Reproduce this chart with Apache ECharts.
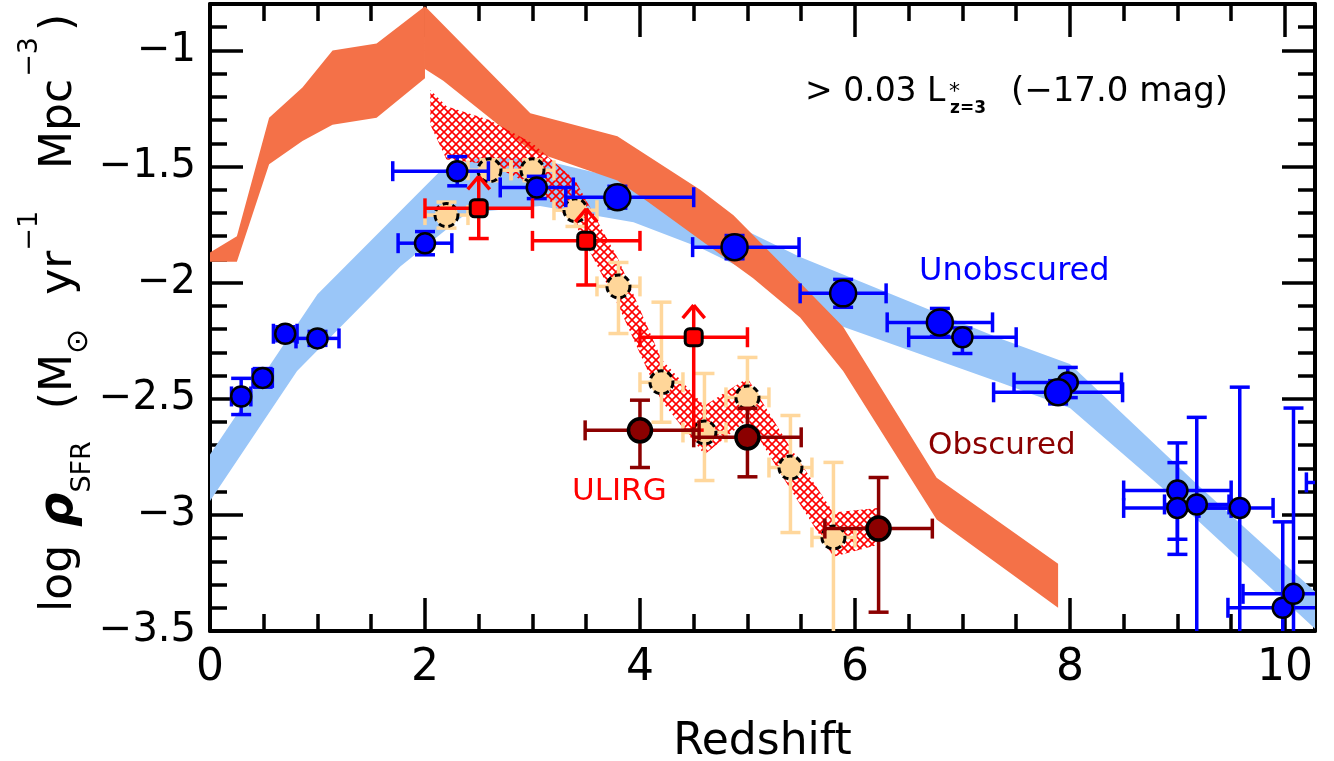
<!DOCTYPE html>
<html>
<head>
<meta charset="utf-8">
<script src="https://cdn.jsdelivr.net/npm/echarts@6/dist/echarts.min.js"></script>
<style>
  html, body { margin: 0; padding: 0; background: #fff; }
  #chart { width: 1334px; height: 761px; }
</style>
</head>
<body>
<div id="chart"></div>
<script>
// ---------------- data ----------------
// axis ranges and ticks
const X_MIN = 0, X_MAX = 10.28, X_MAJOR = 2, X_MINOR = 0.5;
const Y_MIN = -3.5, Y_MAX = -0.8, Y_MAJOR = 0.5, Y_MINOR = 0.1;

// obscured (IR) SFR density model band: piece up to z = 2 and piece beyond
const obscLeftZ  = [0, 0.25, 0.55, 0.86, 1.14, 1.55, 2.0];
const obscLeftHi = [-1.87, -1.80, -1.29, -1.16, -1.00, -0.97, -0.81];
const obscLeftLo = [-1.91, -1.91, -1.49, -1.39, -1.32, -1.29, -1.12];
const obscRightHiZ = [2.0, 2.98, 3.79, 4.56, 4.87, 5.49, 5.89, 6.76, 7.89];
const obscRightHi  = [-0.81, -1.27, -1.37, -1.60, -1.71, -2.00, -2.19, -2.84, -3.21];
const obscRightLoZ = [2.0, 2.17, 2.98, 3.79, 4.07, 5.05, 5.49, 5.89, 6.76, 7.89];
const obscRightLo  = [-1.08, -1.13, -1.43, -1.56, -1.65, -1.98, -2.15, -2.38, -3.02, -3.40];

// unobscured (UV) SFR density model band
const unobsHiZ = [0, 1.0, 2.14, 2.51, 3.07, 3.81, 4.56, 5.49, 7.35, 8.0, 9.21, 10.28];
const unobsHi  = [-2.74, -2.05, -1.52, -1.46, -1.47, -1.55, -1.68, -1.89, -2.24, -2.35, -2.88, -3.33];
const unobsLoZ = [0, 0.81, 1.77, 2.39, 3.07, 3.94, 4.56, 5.05, 5.89, 7.35, 8.0, 8.9, 10.28];
const unobsLo  = [-2.94, -2.38, -1.93, -1.70, -1.67, -1.74, -1.85, -1.96, -2.19, -2.43, -2.54, -2.90, -3.49];

// obscured SFR density range from dusty-galaxy counts (hatched)
const hatchZ  = [2.05, 2.2, 2.6, 3.0, 3.4, 3.8, 4.2, 4.6, 5.0, 5.4, 5.8, 6.21];
const hatchHi = [-1.17, -1.24, -1.30, -1.40, -1.56, -1.90, -2.33, -2.53, -2.41, -2.71, -2.99, -2.97];
const hatchLo = [-1.32, -1.47, -1.49, -1.58, -1.75, -2.10, -2.51, -2.74, -2.59, -2.89, -3.18, -3.13];

// dust-corrected estimates
const lbgZ = [2.2, 2.6, 3.0, 3.4, 3.8, 4.2, 4.6, 5.0, 5.4, 5.8];
const lbgLog = [-1.709, -1.516, -1.516, -1.688, -2.016, -2.429, -2.645, -2.494, -2.796, -3.097];
const lbgZErr = [[0.2, 0.2], [0.2, 0.2], [0.2, 0.2], [0.2, 0.2], [0.2, 0.2], [0.2, 0.2], [0.2, 0.2], [0.2, 0.2], [0.2, 0.2], [0.2, 0.2]];
const lbgLogErr = [[0.056, 0.056], [0.045, 0.045], [0.045, 0.045], [0.07, 0.035], [0.203, 0.103],
                   [0.172, 0.345], [0.207, 0.254], [0.17, 0.172], [0.28, 0.224], [0.6, 0.323]];

// unobscured measurements (two survey groups)
const uvZ = [0.29, 0.49, 0.70, 1.0, 2.0, 2.3, 3.04, 7.0, 7.98, 9.0, 9.0, 9.18, 9.58, 9.98, 10.08, 10.6];
const uvLog = [-2.49, -2.41, -2.22, -2.24, -1.83, -1.52, -1.59, -2.235, -2.43, -2.895, -2.97, -2.955, -2.97, -3.40, -3.34, -2.86];
const uvZErr = [[0.09, 0.09], [0.09, 0.09], [0.11, 0.11], [0.2, 0.2], [0.25, 0.25], [0.6, 0.29], [0.34, 0.34],
                [0.5, 0.5], [0.5, 0.5], [0.5, 0.5], [0.5, 0.5], [0.3, 0.3], [0.38, 0.31], [0.51, 0.5], [0.47, 0.5], [0.4, 0.4]];
const uvLogErr = [[0.078, 0.078], [0.04, 0.04], [0.03, 0.03], [0.03, 0.03], [0.05, 0.05], [0.063, 0.063], [0.048, 0.048],
                  [0.07, 0.04], [0.065, 0.065], [0.21, 0.12], [0.2, 0.28], [1.0, 0.375], [1.0, 0.52], [0.5, 0.37], [0.5, 0.8], [0.05, 0.05]];

const uvWideZ = [3.79, 4.88, 5.89, 6.79, 7.89];
const uvWideLog = [-1.632, -1.847, -2.046, -2.171, -2.472];
const uvWideZErr = [[0.48, 0.71], [0.39, 0.6], [0.4, 0.4], [0.49, 0.49], [0.6, 0.6]];
const uvWideLogErr = [[0.047, 0.047], [0.05, 0.05], [0.06, 0.06], [0.06, 0.06], [0.05, 0.05]];

// ULIRG lower limits
const ulirgZ = [2.5, 3.5, 4.5];
const ulirgLog = [-1.68, -1.82, -2.235];
const ulirgZErr = [[0.5, 0.5], [0.5, 0.5], [0.5, 0.5]];
const ulirgLogErr = [[0.13, 0], [0.19, 0], [0.40, 0]];

// obscured measurements
const obsZ = [4.0, 5.0, 6.22];
const obsLog = [-2.636, -2.666, -3.059];
const obsZErr = [[0.51, 0.55], [0.5, 0.5], [0.5, 0.5]];
const obsLogErr = [[0.16, 0.13], [0.17, 0.125], [0.36, 0.22]];

// ---------------- drawing ----------------
const FAMILY = '"DejaVu Sans"';
const FONT = FAMILY + ', sans-serif';
const BLUE = '#0000ff', RED = '#ff0000', DARKRED = '#8b0000';
const WHEAT = '#ffd699', WHEAT_BAR = '#ffd79c';
const ORANGE = '#f47148', SKY = '#9ac6f8';
const CAP = 10;

// cross-hatch tile for the dusty-galaxy range
const hatchTile = document.createElement('canvas');
hatchTile.width = hatchTile.height = 8;
(function () {
  const g = hatchTile.getContext('2d');
  g.strokeStyle = RED;
  g.lineWidth = 1.6;
  g.beginPath();
  g.moveTo(-1, -1); g.lineTo(9, 9);
  g.moveTo(9, -1); g.lineTo(-1, 9);
  g.stroke();
})();

function edge(zs, vs) { return zs.map((z, i) => [z, vs[i]]); }

function bandSeries(hiZ, hi, loZ, lo, fill, z) {
  const pts = edge(hiZ, hi).concat(edge(loZ, lo).reverse());
  return {
    type: 'custom', z, clip: true, silent: true,
    encode: { x: 0, y: 1 },
    data: pts,
    renderItem(params, api) {
      if (params.dataIndex !== 0) return null;
      return {
        type: 'polygon',
        shape: { points: pts.map(p => api.coord(p)) },
        style: { fill: fill, stroke: null }
      };
    }
  };
}

function errRows(zs, vs, zErr, vErr) {
  return zs.map((z, i) => [z, vs[i], z - zErr[i][0], z + zErr[i][1], vs[i] - vErr[i][0], vs[i] + vErr[i][1]]);
}

function errorBarSeries(rows, color, width, z, arrow) {
  return {
    type: 'custom', z, clip: true, silent: true,
    encode: { x: 0, y: 1 },
    data: rows,
    renderItem(params, api) {
      const zc = api.value(0), v = api.value(1);
      const p = api.coord([zc, v]);
      const kids = [];
      const seg = (a, b, c, d) => kids.push({
        type: 'line', shape: { x1: a, y1: b, x2: c, y2: d },
        style: { stroke: color, lineWidth: width }
      });
      if (api.value(2) < zc) {
        const x0 = api.coord([api.value(2), v])[0];
        seg(x0, p[1], p[0], p[1]); seg(x0, p[1] - CAP, x0, p[1] + CAP);
      }
      if (api.value(3) > zc) {
        const x1 = api.coord([api.value(3), v])[0];
        seg(p[0], p[1], x1, p[1]); seg(x1, p[1] - CAP, x1, p[1] + CAP);
      }
      if (api.value(4) < v) {
        const y0 = api.coord([zc, api.value(4)])[1];
        seg(p[0], p[1], p[0], y0); seg(p[0] - CAP, y0, p[0] + CAP, y0);
      }
      if (api.value(5) > v) {
        const y1 = api.coord([zc, api.value(5)])[1];
        seg(p[0], p[1], p[0], y1); seg(p[0] - CAP, y1, p[0] + CAP, y1);
      }
      if (arrow) {
        const tip = p[1] - 32;
        seg(p[0], p[1], p[0], tip);
        seg(p[0] - 11, tip + 13, p[0], tip);
        seg(p[0] + 11, tip + 13, p[0], tip);
      }
      return { type: 'group', children: kids };
    }
  };
}

function markerSeries(zs, vs, symbol, size, itemStyle, z) {
  return {
    type: 'scatter', z, clip: true, silent: true,
    symbol, symbolSize: size,
    data: edge(zs, vs),
    itemStyle: Object.assign({ opacity: 1 }, itemStyle)
  };
}

const isMultiple = (v, step) => Math.abs(v / step - Math.round(v / step)) < 1e-6;

function xAxisDef(pos, minor, labels) {
  return {
    type: 'value', position: pos, min: X_MIN, max: X_MAX,
    interval: minor ? X_MINOR : X_MAJOR,
    splitLine: { show: false },
    axisLine: { show: !minor, onZero: false, lineStyle: { color: '#000', width: 4 } },
    axisTick: { show: true, inside: true, interval: 0, length: minor ? 17 : 33, lineStyle: { color: '#000', width: 3.5 } },
    axisLabel: {
      show: labels, interval: 0, margin: 16, color: '#000', fontFamily: FONT, fontSize: 44,
      showMaxLabel: false,
      formatter: v => isMultiple(v, X_MAJOR) ? String(Math.round(v)) : ''
    },
    name: labels ? 'Redshift' : '',
    nameLocation: 'middle', nameGap: 90,
    nameTextStyle: { color: '#000', fontFamily: FONT, fontSize: 44 }
  };
}

function yAxisDef(pos, minor, labels) {
  return {
    type: 'value', position: pos, min: Y_MIN, max: Y_MAX,
    interval: minor ? Y_MINOR : Y_MAJOR,
    splitLine: { show: false },
    axisLine: { show: !minor, onZero: false, lineStyle: { color: '#000', width: 4 } },
    axisTick: { show: true, inside: true, interval: 0, length: minor ? 17 : 33, lineStyle: { color: '#000', width: 3.5 } },
    axisLabel: {
      show: labels, interval: 0, margin: 14, color: '#000', fontFamily: FONT, fontSize: 40,
      showMaxLabel: false,
      formatter: v => isMultiple(v, Y_MAJOR) ? '\u2212' + String(Math.abs(v)) : ''
    }
  };
}

// text made of pieces set one after another (with sub/superscript offsets)
const measureCtx = document.createElement('canvas').getContext('2d');
function cssFont(p) {
  return (p.italic ? 'italic ' : 'normal ') + (p.bold ? 'bold ' : 'normal ') + p.size + 'px ' + FAMILY;
}
function composedText(pieces, x, y, rotation, color) {
  let cursor = 0;
  const kids = [];
  pieces.forEach(p => {
    const font = cssFont(p);
    kids.push({
      type: 'text', x: cursor, y: p.dy || 0,
      style: { text: p.text, font: font, fill: color, align: 'left', verticalAlign: 'middle' }
    });
    measureCtx.font = font;
    cursor += measureCtx.measureText(p.text).width + (p.gap || 0);
  });
  return { type: 'group', x, y, rotation, z: 50, silent: true, children: kids };
}

const yTitle = [
  { text: 'log', size: 44, gap: 18 },
  { text: '\u03c1', size: 48, italic: true, bold: true },
  { text: 'SFR', size: 27, dy: 23, gap: 32 },
  { text: '(', size: 44 },
  { text: 'M', size: 44 },
  { text: '\u2299', size: 30, dy: 19, gap: 34 },
  { text: 'yr', size: 44 },
  { text: '\u22121', size: 27, dy: -30, gap: 42 },
  { text: 'Mpc', size: 44, gap: 2 },
  { text: '\u22123', size: 27, dy: -30, gap: 6 },
  { text: ')', size: 44 }
];

const lumNote = [
  { text: '> 0.03 L', size: 33 }
];

const chart = echarts.init(document.getElementById('chart'), null, { renderer: 'canvas' });

const option = {
  animation: false,
  backgroundColor: '#fff',
  textStyle: { fontFamily: FONT },
  grid: { left: 210, right: 19, top: 4, bottom: 130, containLabel: false, outerBoundsMode: 'none' },
  xAxis: [xAxisDef('bottom', false, true), xAxisDef('bottom', true, false), xAxisDef('top', false, false), xAxisDef('top', true, false)],
  yAxis: [yAxisDef('left', false, true), yAxisDef('left', true, false), yAxisDef('right', false, false), yAxisDef('right', true, false)],
  series: [
    bandSeries(unobsHiZ, unobsHi, unobsLoZ, unobsLo, SKY, 1),
    bandSeries(obscLeftZ, obscLeftHi, obscLeftZ, obscLeftLo, ORANGE, 2),
    bandSeries(obscRightHiZ, obscRightHi, obscRightLoZ, obscRightLo, ORANGE, 2),
    bandSeries(hatchZ, hatchHi, hatchZ, hatchLo, { image: hatchTile, repeat: 'repeat' }, 3),

    errorBarSeries(errRows(lbgZ, lbgLog, lbgZErr, lbgLogErr), WHEAT_BAR, 3.5, 4, false),
    markerSeries(lbgZ, lbgLog, 'circle', 23, { color: WHEAT, borderColor: '#000', borderWidth: 3, borderType: [6, 4] }, 5),

    errorBarSeries(errRows(uvZ, uvLog, uvZErr, uvLogErr), BLUE, 3.5, 6, false),
    errorBarSeries(errRows(uvWideZ, uvWideLog, uvWideZErr, uvWideLogErr), BLUE, 3.5, 6, false),
    markerSeries(uvZ, uvLog, 'circle', 20, { color: BLUE, borderColor: '#000', borderWidth: 2.5 }, 7),
    markerSeries(uvWideZ, uvWideLog, 'circle', 26, { color: BLUE, borderColor: '#000', borderWidth: 2.5 }, 7),

    errorBarSeries(errRows(ulirgZ, ulirgLog, ulirgZErr, ulirgLogErr), RED, 3.5, 8, true),
    markerSeries(ulirgZ, ulirgLog, 'roundRect', 17, { color: RED, borderColor: '#000', borderWidth: 3 }, 9),

    errorBarSeries(errRows(obsZ, obsLog, obsZErr, obsLogErr), DARKRED, 3.5, 10, false),
    markerSeries(obsZ, obsLog, 'circle', 23, { color: DARKRED, borderColor: '#000', borderWidth: 3.5 }, 11)
  ],
  graphic: [
    // vertical axis title, reading upwards from its start point
    composedText(yTitle, 60, 612, Math.PI / 2, '#000'),
    // luminosity limit note
    composedText(lumNote, 805, 92, 0, '#000'),
    { type: 'text', x: 949, y: 92, z: 50, style: { text: '*', font: cssFont({ size: 22 }), fill: '#000', align: 'left', verticalAlign: 'middle' } },
    { type: 'text', x: 950, y: 109, z: 50, style: { text: 'z=3', font: cssFont({ size: 17, bold: true }), fill: '#000', align: 'left', verticalAlign: 'middle' } },
    { type: 'text', x: 1228, y: 92, z: 50, style: { text: '(\u221217.0 mag)', font: cssFont({ size: 34 }), fill: '#000', align: 'right', verticalAlign: 'middle' } },
    { type: 'text', x: 919, y: 272, z: 50, style: { text: 'Unobscured', font: cssFont({ size: 32 }), fill: BLUE, align: 'left', verticalAlign: 'middle' } },
    { type: 'text', x: 928, y: 446, z: 50, style: { text: 'Obscured', font: cssFont({ size: 31 }), fill: DARKRED, align: 'left', verticalAlign: 'middle' } },
    { type: 'text', x: 572, y: 492, z: 50, style: { text: 'ULIRG', font: cssFont({ size: 31 }), fill: RED, align: 'left', verticalAlign: 'middle' } }
  ]
};

chart.setOption(option);
</script>
</body>
</html>
